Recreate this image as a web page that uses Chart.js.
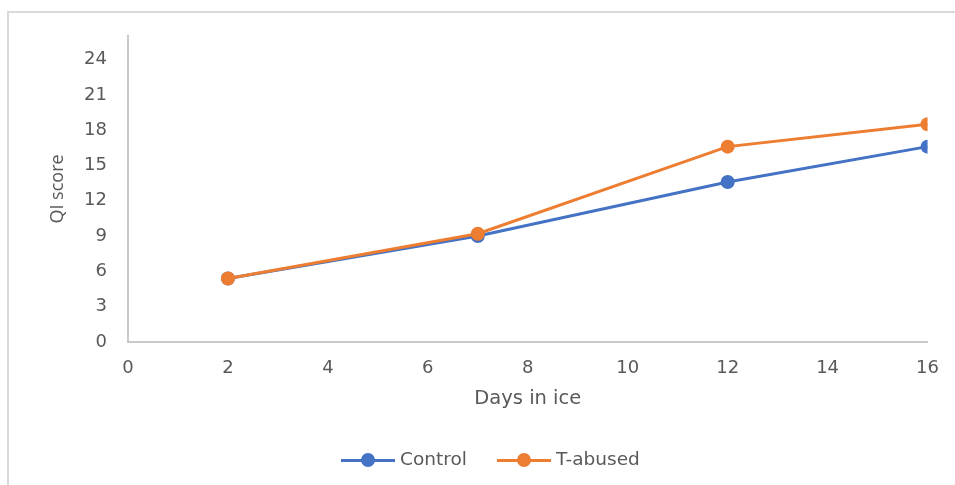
<!DOCTYPE html>
<html>
<head>
<meta charset="utf-8">
<script src="https://cdn.jsdelivr.net/npm/chart.js@4.4.0/dist/chart.umd.min.js"></script>
<style>
    html, body { margin: 0; padding: 0; background: #fff; overflow: hidden; }
    #marco { position: absolute; left: 7px; top: 11px; width: 1000px; height: 600px;
             border-left: 2px solid #d9d9d9; border-top: 2px solid #d9d9d9; }
    #grafico { position: absolute; left: 0; top: 0; }
    #leyenda { position: absolute; left: 0; top: 450px; height: 20px; width: 955px;
               font-family: "DejaVu Sans", sans-serif; font-size: 18.5px; color: #595959; }
    .item { position: absolute; top: 0; height: 20px; line-height: 20px; }
    .linea { position: absolute; top: 9px; height: 3px; width: 54px; }
    .punto { position: absolute; top: 3px; width: 14px; height: 14px; border-radius: 50%; }
    .texto { position: absolute; top: -1px; white-space: nowrap; }
</style>
</head>
<body>
<div id="marco"></div>
<canvas id="grafico" width="955" height="485"></canvas>
<div id="leyenda"></div>
<script>
// ========= Datos =========
const dias = [2, 7, 12, 16];
const control = [5.4, 9.0, 13.6, 16.6];
const tAbused = [5.4, 9.2, 16.6, 18.5];
const nombresSeries = ["Control", "T-abused"];
const coloresSeries = ["#4472c4", "#ed7d31"];
const ticksY = [0, 3, 6, 9, 12, 15, 18, 21, 24];

const gris = "#595959";
const fuente = "'DejaVu Sans', sans-serif";

function puntos(valores) {
    return dias.map((d, i) => ({ x: d, y: valores[i] }));
}

// orden: la serie con orden menor se dibuja encima
function serie(nombre, valores, color, orden) {
    return {
        label: nombre,
        data: puntos(valores),
        borderColor: color,
        backgroundColor: color,
        borderWidth: 3,
        pointRadius: 7,
        pointHoverRadius: 7,
        pointBorderWidth: 0,
        tension: 0,
        order: orden
    };
}

// ========= Grafico =========
const grafico = new Chart(document.getElementById("grafico"), {
    type: "line",
    data: {
        datasets: [
            serie(nombresSeries[0], control, coloresSeries[0], 1),
            serie(nombresSeries[1], tAbused, coloresSeries[1], 0)
        ]
    },
    options: {
        responsive: false,
        animation: false,
        layout: { padding: { top: 36, right: 27, left: 0, bottom: 0 } },
        plugins: { legend: { display: false }, tooltip: { enabled: false } },
        scales: {
            x: {
                type: "linear",
                min: 0,
                max: 16,
                grid: { display: false, drawTicks: false },
                border: { display: true, color: "#c9c9c9", width: 2 },
                ticks: { stepSize: 2, padding: 16, color: gris, font: { family: fuente, size: 18 } },
                title: {
                    display: true, text: "Days in ice", color: gris,
                    font: { family: fuente, size: 19.5 }, padding: { top: 0, bottom: 74 }
                },
                afterFit: s => { s.height = 143; }
            },
            y: {
                min: 0,
                max: 26,
                grid: { display: false, drawTicks: false },
                border: { display: true, color: "#c9c9c9", width: 2 },
                ticks: { stepSize: 3, padding: 21, color: gris, font: { family: fuente, size: 18 } },
                afterBuildTicks: s => { s.ticks = ticksY.map(v => ({ value: v })); },
                title: {
                    display: true, text: "QI score", color: gris,
                    font: { family: "'Open Sans', sans-serif", size: 18 }, padding: { top: 47, bottom: 0 }
                },
                afterFit: s => { s.width = 128; }
            }
        }
    }
});

// ========= Leyenda =========
const posicionesLeyenda = [341, 497];
const leyenda = document.getElementById("leyenda");
nombresSeries.forEach((nombre, i) => {
    const item = document.createElement("div");
    item.className = "item";
    item.style.left = posicionesLeyenda[i] + "px";
    item.innerHTML = `
        <span class="linea" style="left:0;background:${coloresSeries[i]}"></span>
        <span class="punto" style="left:20px;background:${coloresSeries[i]}"></span>
        <span class="texto" style="left:59px">${nombre}</span>
    `;
    leyenda.appendChild(item);
});
</script>
</body>
</html>
